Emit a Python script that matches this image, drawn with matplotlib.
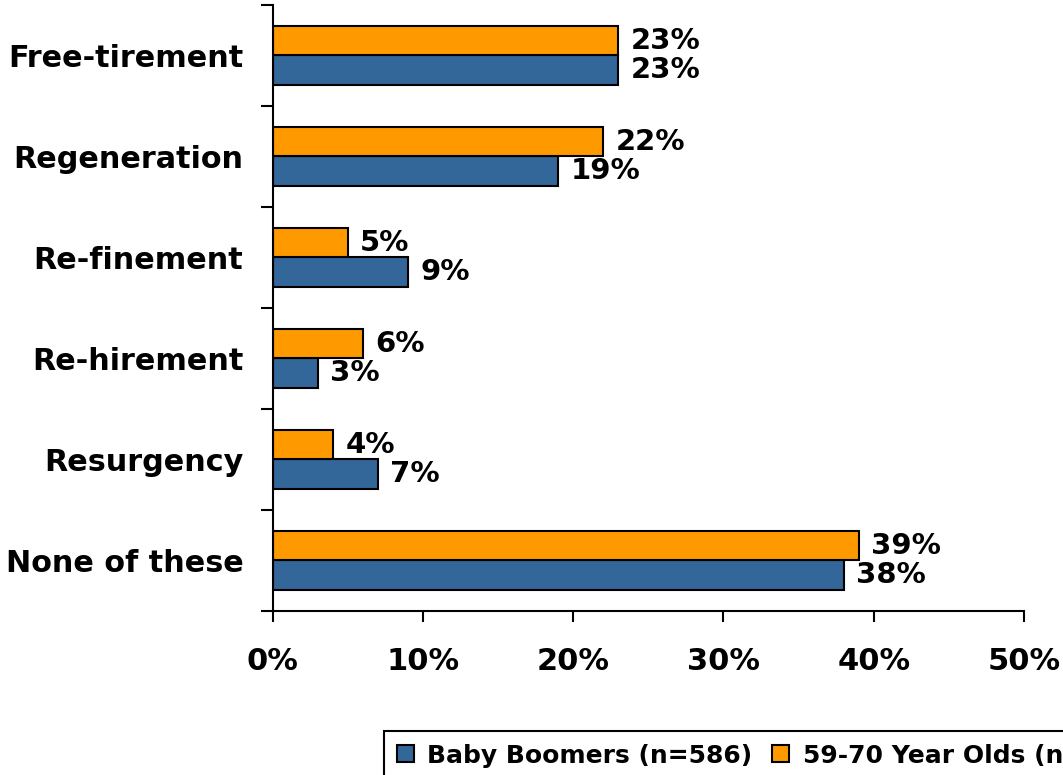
import matplotlib
matplotlib.use("Agg")
import matplotlib.pyplot as plt
from matplotlib.patches import Patch
import numpy as np

# data (bottom -> top)
categories = ["None of these", "Resurgency", "Re-hirement", "Re-finement", "Regeneration", "Free-tirement"]
boomers = [38, 7, 3, 9, 19, 23]
olds = [39, 4, 6, 5, 22, 23]
series_names = ["Baby Boomers (n=586)", "59-70 Year Olds (n=250)"]
xticks = [0, 10, 20, 30, 40, 50]

blue = "#336699"
orange = "#FF9900"

plt.rcParams["font.family"] = "DejaVu Sans"
plt.rcParams["font.weight"] = "bold"

fig = plt.figure(figsize=(10.63, 7.75), dpi=100)
ax = fig.add_axes([0.2565, 0.2120, 0.9633 - 0.2565, 0.99355 - 0.2120])

y = np.arange(len(categories))
h = 0.29
ax.barh(y - h / 2, boomers, height=h, color=blue, edgecolor="black", linewidth=1.5)
ax.barh(y + h / 2, olds, height=h, color=orange, edgecolor="black", linewidth=1.5)

for i in range(len(categories)):
    ax.annotate(f"{boomers[i]}%", (boomers[i], y[i] - h / 2), xytext=(9, 0),
                textcoords="offset points", va="center", ha="left",
                fontsize=21, fontweight="bold")
    ax.annotate(f"{olds[i]}%", (olds[i], y[i] + h / 2), xytext=(9, 0),
                textcoords="offset points", va="center", ha="left",
                fontsize=21, fontweight="bold")

ax.set_xlim(0, 50)
ax.set_ylim(-0.5, len(categories) - 0.5)

ax.set_xticks(xticks)
ax.set_xticklabels([f"{v}%" for v in xticks], fontsize=22, fontweight="bold")
ax.tick_params(axis="x", length=8, width=1.5, pad=18)

ax.set_yticks(np.arange(-0.5, len(categories)))
ax.set_yticklabels([])
ax.tick_params(axis="y", which="major", length=9, width=1.5)
ax.set_yticks(y, minor=True)
ax.set_yticklabels(categories, minor=True, fontsize=21.8, fontweight="bold")
ax.tick_params(axis="y", which="minor", length=0, pad=21)

for s in ["top", "right"]:
    ax.spines[s].set_visible(False)
for s in ["left", "bottom"]:
    ax.spines[s].set_linewidth(1.5)

# legend runs off the right edge, as in the original
handles = [Patch(facecolor=blue, edgecolor="black", linewidth=1.5),
           Patch(facecolor=orange, edgecolor="black", linewidth=1.5)]
leg = fig.legend(handles, series_names, loc="upper left",
                 bbox_to_anchor=(384 / 1063, 1 - 731 / 775), bbox_transform=fig.transFigure,
                 ncol=2, frameon=True, fancybox=False, borderaxespad=0,
                 handlelength=0.68, handleheight=0.68, handletextpad=0.55,
                 columnspacing=0.8, borderpad=0.5,
                 prop={"family": "DejaVu Sans", "weight": "bold", "size": 18})
leg.get_frame().set_edgecolor("black")
leg.get_frame().set_linewidth(1.5)
leg.get_frame().set_alpha(1)

fig.savefig("out.png", dpi=100)
